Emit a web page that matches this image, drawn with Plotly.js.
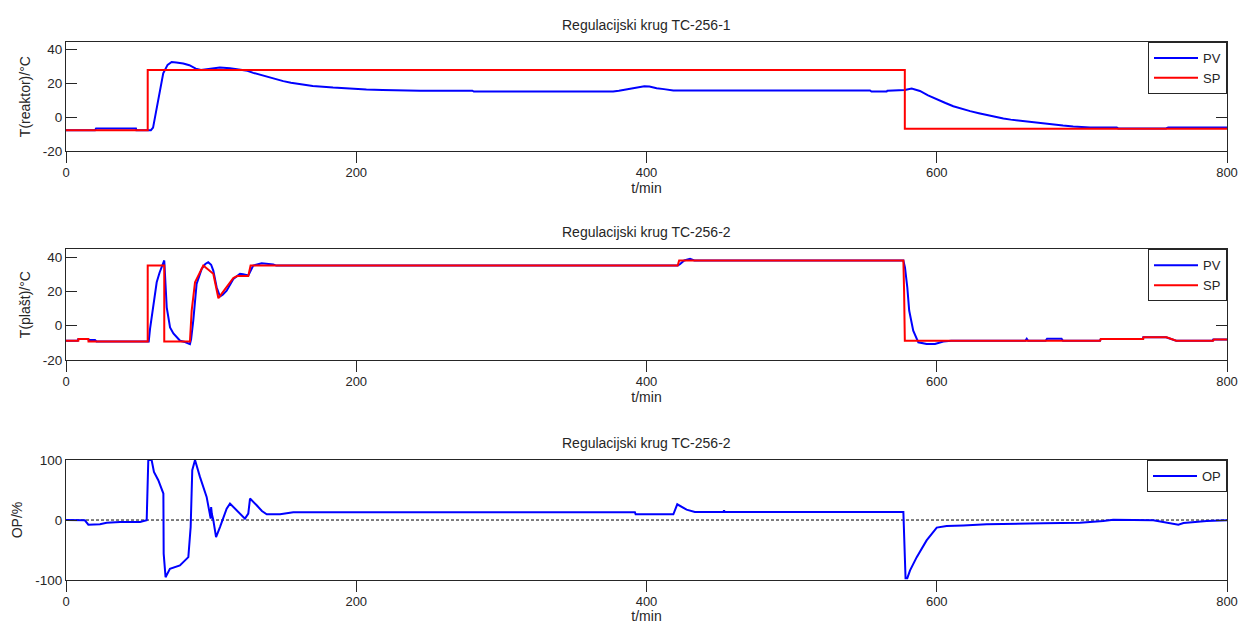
<!DOCTYPE html>
<html><head><meta charset="utf-8">
<script src="https://cdn.plot.ly/plotly-3.0.1.min.js"></script>
<style>html,body{margin:0;padding:0;background:#fff}#chart{width:1242px;height:624px}</style>
</head><body><div id="chart"></div>
<script>
// ---- tick labels / categories ----
const T_TICKS = [0, 200, 400, 600, 800];
const Y_TICKS_T = [-20, 0, 20, 40];
const Y_TICKS_OP = [-100, 0, 100];
const TITLES = ['Regulacijski krug TC-256-1', 'Regulacijski krug TC-256-2', 'Regulacijski krug TC-256-2'];
const Y_LABELS = ['T(reaktor)/°C', 'T(plašt)/°C', 'OP/%'];
const X_LABEL = 't/min';

// ---- Panel 1: reactor temperature ----
const P1_PV_T = [0, 20, 20.7, 48.2, 48.5, 57, 58.5, 60, 62.5, 65, 67, 70, 72.8, 76, 80.8, 85, 89.4, 93, 99.2, 106, 113, 120, 125, 129, 133, 138, 144, 149.7, 155, 161, 170, 184, 195, 207, 218, 230, 244, 260, 280, 281, 330, 377, 381, 386, 392, 398.5, 402, 407, 412, 418.5, 440, 480, 519.5, 554, 555, 565.5, 566, 574.7, 578, 582.7, 585, 588.4, 594, 600, 606, 611.4, 617, 623, 629, 634.4, 640, 645.9, 651, 657.4, 663, 668.8, 674, 680.3, 687, 694, 700, 705.6, 724, 725, 758, 759.5, 800];
const P1_PV_Y = [-7.5, -7.5, -6.5, -6.5, -7.5, -7.5, -7.5, -6, 5, 17, 26, 31, 32.7, 32.4, 31.8, 30.8, 28.8, 28, 28.8, 29.4, 29, 28.3, 27.5, 26.3, 25.3, 24.3, 22.7, 21.4, 20.4, 19.6, 18.6, 17.6, 17, 16.5, 16.2, 15.9, 15.8, 15.8, 15.8, 15.3, 15.3, 15.3, 15.8, 16.5, 17.6, 18.4, 18.2, 17.2, 16.7, 15.9, 15.9, 15.9, 15.9, 15.9, 15.3, 15.3, 15.8, 16, 16.2, 17, 16.6, 15.6, 13, 10.6, 8.5, 6.6, 5.1, 3.7, 2.5, 1.4, 0.4, -0.6, -1.3, -2, -2.6, -3.2, -3.8, -4.3, -4.8, -5.3, -5.6, -5.9, -5.9, -6.5, -6.5, -5.9, -5.9];
const P1_SP_T = [0, 56.3, 56.3, 578, 578, 800];
const P1_SP_Y = [-7.5, -7.5, 28, 28, -6.7, -6.7];

// ---- Panel 2: jacket temperature ----
const P2_PV_T = [0, 8, 8.5, 15, 16, 20, 21, 57, 57.9, 60.2, 62.5, 64.5, 67, 67.7, 69.4, 71.7, 74, 76.3, 78.6, 82, 85.4, 86.2, 87.7, 90, 93.5, 96, 98, 100, 101.5, 103.8, 106.1, 108, 110.7, 115.3, 119.9, 122, 125.6, 129, 134.8, 142.8, 145, 421.5, 423, 426, 430, 433, 577, 578.1, 579.7, 581, 583.8, 587.3, 593, 598.8, 604.5, 610, 661, 662, 663, 675, 676, 686, 687, 712.5, 713, 742, 742.3, 758, 765, 790, 790.5, 800];
const P2_PV_Y = [-8.8, -8.8, -7.8, -7.8, -8.4, -8.4, -9.2, -9.2, -1.9, 12.7, 25.3, 31, 37, 38, 10.7, -1, -4.5, -6.8, -8.8, -9.5, -10.7, -8, 2.9, 24.3, 33.1, 36, 37, 35.5, 32.1, 22.4, 17, 18, 20.4, 27.2, 30.2, 30, 29.2, 35, 36.4, 35.6, 35, 35, 35.8, 38, 39, 38, 38, 34, 22.4, 8.8, -2.9, -9.7, -10.7, -10.7, -9.2, -8.8, -8.8, -7.6, -8.8, -8.8, -7.6, -7.6, -8.8, -8.8, -7.8, -7.8, -6.8, -6.8, -8.8, -8.8, -8, -8];
const P2_SP_T = [0, 8.5, 8.6, 15.4, 15.5, 56.3, 56.3, 67.7, 67.7, 85.4, 86.6, 88.9, 94.6, 101.5, 105, 110.7, 115.3, 118, 125.6, 127.2, 421.5, 422.5, 577, 577.5, 578, 712.5, 713, 742.3, 742.5, 758.4, 765, 790.5, 791, 800];
const P2_SP_Y = [-8.8, -8.8, -7.8, -7.8, -9.2, -9.2, 35, 35, -9.2, -9.2, 8.8, 25.3, 35, 30.2, 16, 22.4, 27.8, 28.9, 28.9, 35, 35, 38, 38, 20, -8.8, -8.8, -7.8, -7.8, -6.8, -6.8, -8.8, -8.8, -8, -8];

// ---- Panel 3: controller output ----
const P3_OP_T = [0, 13, 15.4, 23.4, 28, 37.2, 51, 55.6, 56.7, 59, 60.6, 63.6, 67.1, 67.3, 68.6, 71.6, 78.5, 84.3, 85.9, 87, 88.9, 92.3, 96.9, 99.3, 99.7, 100, 100.5, 101.5, 103.4, 106.1, 108, 110.7, 113, 118, 123.3, 125.6, 126.8, 131.4, 135, 138.3, 147.5, 156.6, 392, 392.5, 418.5, 421.2, 427.6, 433.3, 453, 453.4, 454, 577, 578.5, 579.7, 581.6, 586.2, 593, 600, 606.8, 618.3, 634.4, 673.5, 698.7, 714.7, 721.6, 749.2, 760.7, 766.5, 770, 786, 800];
const P3_OP_Y = [0, -0.5, -7.8, -7, -4.4, -3.3, -3.3, -0.3, 100, 100, 80.3, 66.4, 44.1, -56, -95.3, -81.3, -75.8, -61.9, -11.7, 83.1, 100, 71.9, 38.5, 12, 2.3, 21.7, 10, 0, -28.4, -11.7, 2, 19, 27.4, 15, 2.3, 10.7, 35.8, 24.6, 15, 9.5, 9.5, 12.9, 12.9, 9.5, 9.5, 26.2, 17.3, 13.4, 13.4, 16, 13.4, 13.4, -97, -97, -84, -61.9, -34, -12.7, -10, -9, -7.2, -5.5, -4.4, -1.6, 0.6, -0.5, -5, -7.8, -5, -1.6, -0.5];
const ZERO_T = [0, 800];
const ZERO_Y = [0, 0];

// ---- styling ----
const FONT = 'Liberation Sans, Arial, sans-serif';
const INK = '#262626';
const BLUE = '#0000ff', RED = '#ff0000';

const traces = [
  {x: P1_PV_T, y: P1_PV_Y, name: 'PV', mode: 'lines', line: {color: BLUE, width: 2}, xaxis: 'x', yaxis: 'y', legend: 'legend'},
  {x: P1_SP_T, y: P1_SP_Y, name: 'SP', mode: 'lines', line: {color: RED, width: 2}, xaxis: 'x', yaxis: 'y', legend: 'legend'},
  {x: P2_PV_T, y: P2_PV_Y, name: 'PV', mode: 'lines', line: {color: BLUE, width: 2}, xaxis: 'x2', yaxis: 'y2', legend: 'legend2'},
  {x: P2_SP_T, y: P2_SP_Y, name: 'SP', mode: 'lines', line: {color: RED, width: 2}, xaxis: 'x2', yaxis: 'y2', legend: 'legend2'},
  {x: ZERO_T, y: ZERO_Y, mode: 'lines', line: {color: '#000', width: 1, dash: '3px,2px'}, xaxis: 'x3', yaxis: 'y3', showlegend: false, hoverinfo: 'skip'},
  {x: P3_OP_T, y: P3_OP_Y, name: 'OP', mode: 'lines', line: {color: BLUE, width: 2}, xaxis: 'x3', yaxis: 'y3', legend: 'legend3'}
];

function xAx(anchor) {
  return {
    anchor: anchor, domain: [0, 1], range: [0, 800], tickvals: T_TICKS, ticktext: T_TICKS.map(String),
    ticks: 'outside', ticklen: 11, tickcolor: INK, tickwidth: 1,
    showline: true, linecolor: INK, linewidth: 1, mirror: true,
    showgrid: false, zeroline: false, ticklabelstandoff: -2,
    tickfont: {family: FONT, size: 13, color: INK},
    title: {text: X_LABEL, standoff: 2, font: {family: FONT, size: 14, color: INK}}
  };
}
function yAx(anchor, domain, range, ticks, label, standoff) {
  return {
    anchor: anchor, domain: domain, range: range, tickvals: ticks, ticktext: ticks.map(String),
    ticks: 'inside', ticklen: 11, tickcolor: INK, tickwidth: 1,
    showline: true, linecolor: INK, linewidth: 1, mirror: 'ticks',
    showgrid: false, zeroline: false,
    tickfont: {family: FONT, size: 13.5, color: INK},
    title: {text: label, standoff: standoff, font: {family: FONT, size: 14, color: INK}}
  };
}
function leg(top) {
  return {x: 1, xanchor: 'right', y: top, yanchor: 'top', bgcolor: '#fff', bordercolor: INK, borderwidth: 1,
          font: {family: FONT, size: 13, color: INK}, itemwidth: 44, tracegroupgap: 0};
}

const D1 = [0.7968, 1], D2 = [0.4089, 0.6147], D3 = [0, 0.2230];

const layout = {
  width: 1242, height: 624,
  margin: {l: 66, r: 15, t: 42, b: 44},
  paper_bgcolor: '#fff', plot_bgcolor: '#fff',
  font: {family: FONT, size: 14, color: INK},
  showlegend: true,
  xaxis: xAx('y'), xaxis2: xAx('y2'), xaxis3: xAx('y3'),
  yaxis: yAx('x', D1, [-20, 44.5], Y_TICKS_T, Y_LABELS[0], 8),
  yaxis2: yAx('x2', D2, [-20, 44.5], Y_TICKS_T, Y_LABELS[1], 8),
  yaxis3: yAx('x3', D3, [-100, 100], Y_TICKS_OP, Y_LABELS[2], 9),
  legend: leg(D1[1]), legend2: leg(D2[1]), legend3: leg(D3[1]),
  annotations: [D1, D2, D3].map((d, i) => ({
    text: TITLES[i], xref: 'paper', yref: 'paper', x: 0.5, y: d[1], xanchor: 'center', yanchor: 'bottom',
    yshift: 7, showarrow: false, font: {family: FONT, size: 14, color: INK}
  }))
};

Plotly.newPlot('chart', traces, layout, {displayModeBar: false, staticPlot: true});
</script>
</body></html>
